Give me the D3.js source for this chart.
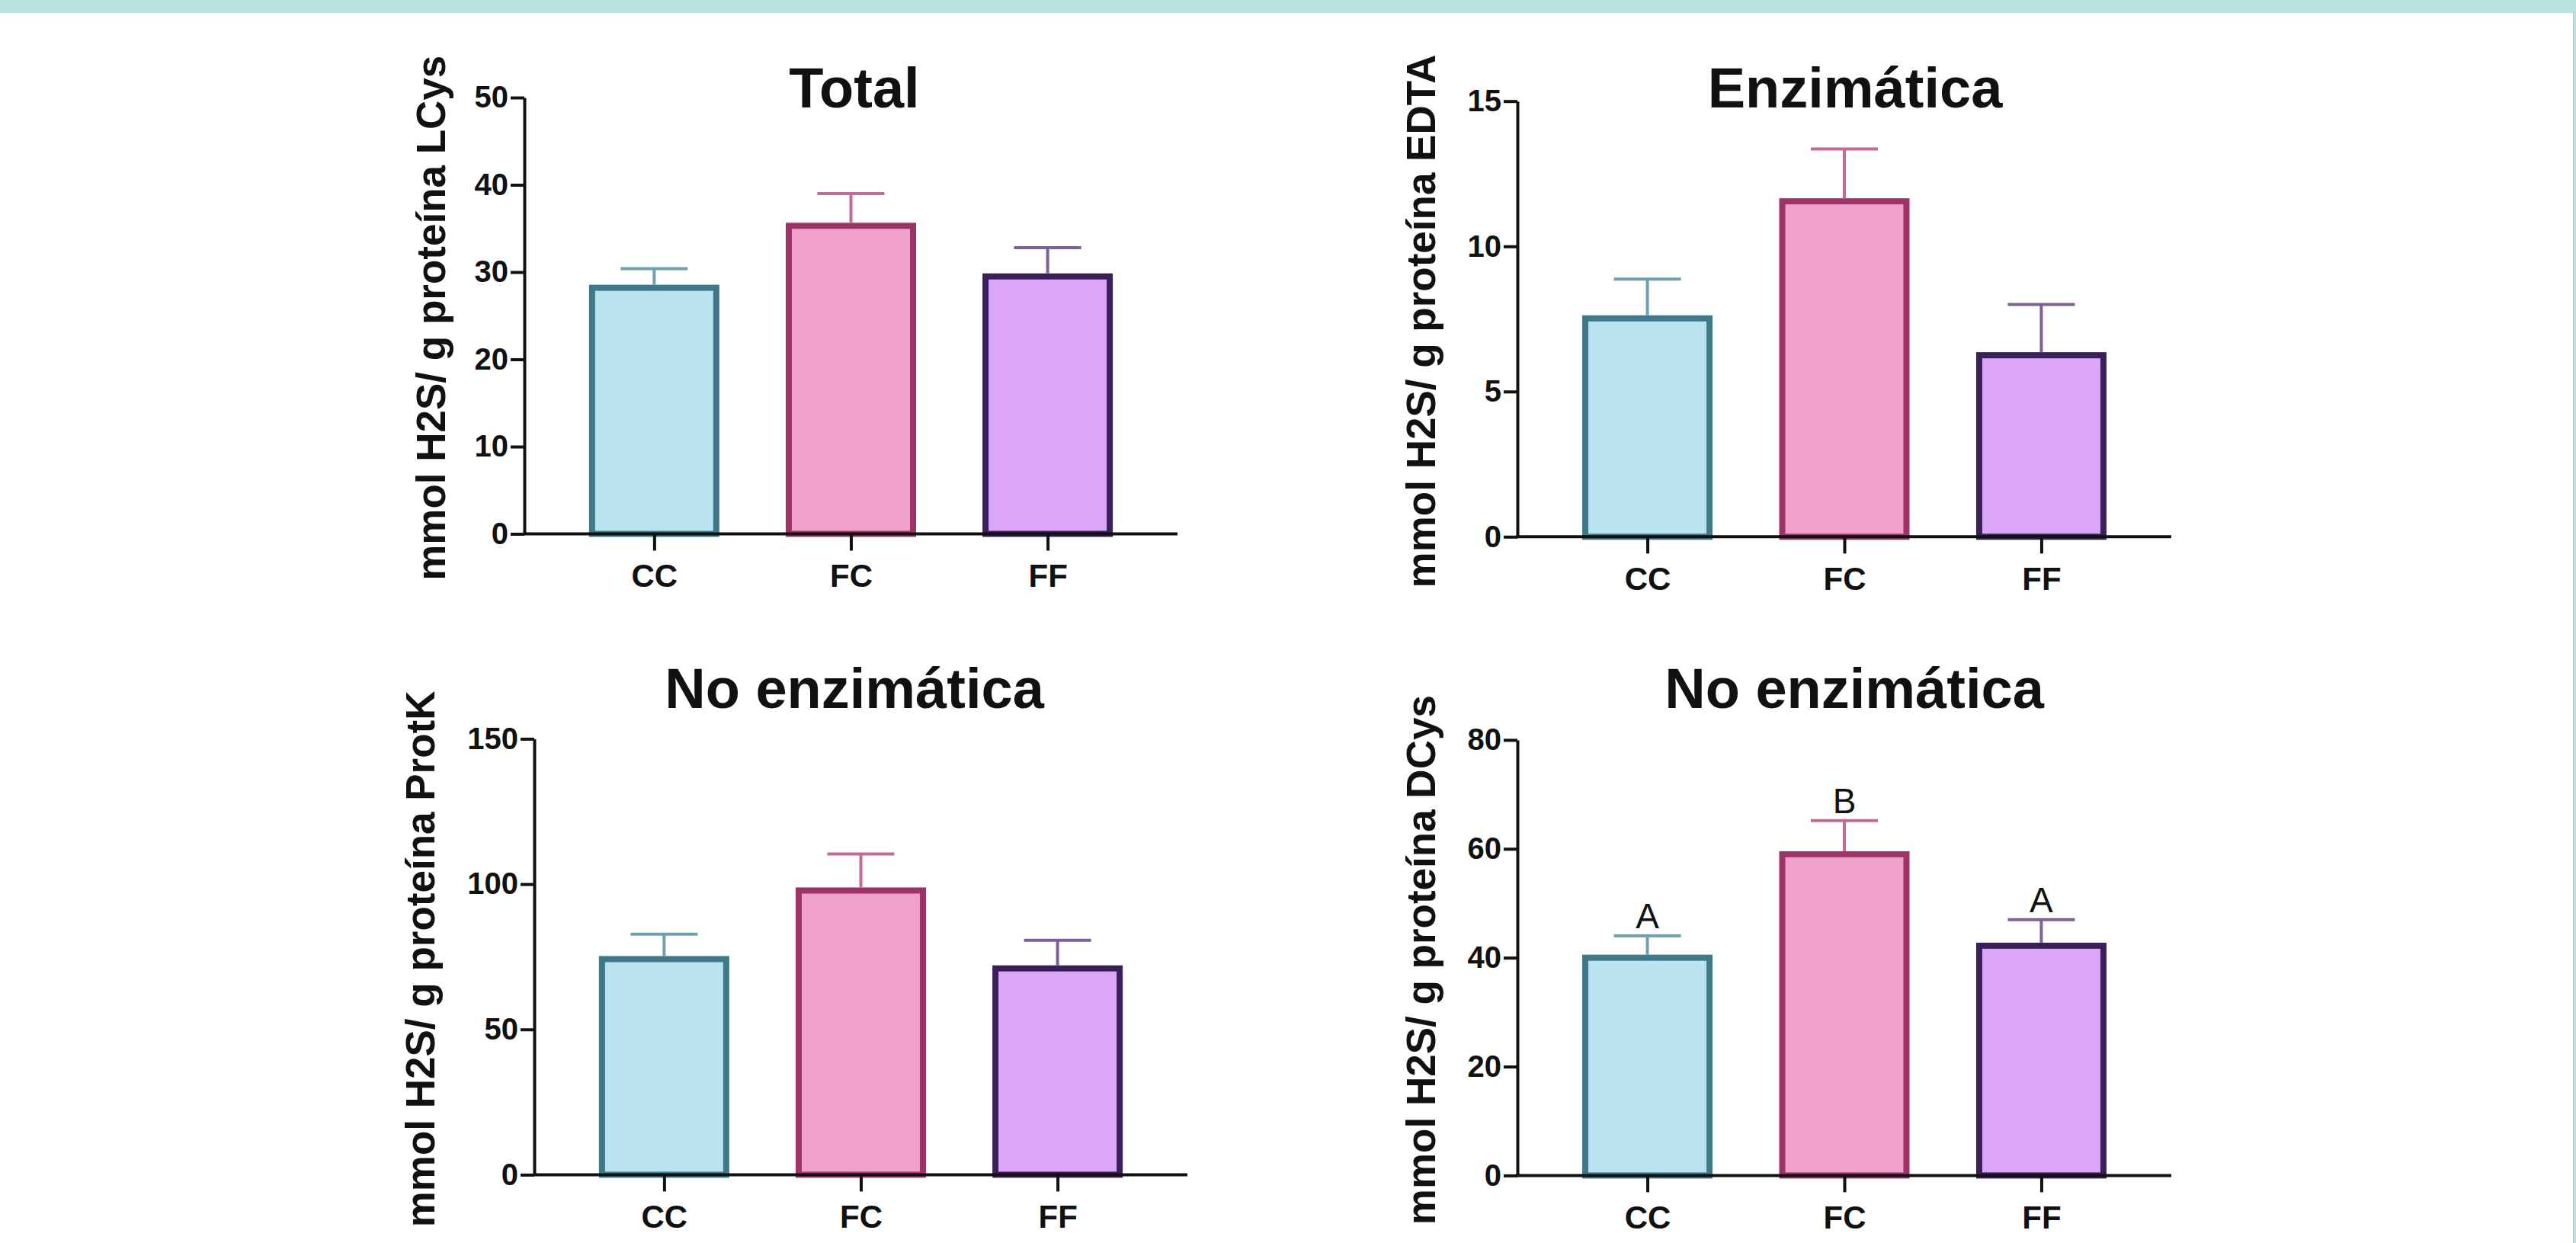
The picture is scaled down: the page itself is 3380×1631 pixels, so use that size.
<!DOCTYPE html>
<html>
<head>
<meta charset="utf-8">
<script src="https://cdn.jsdelivr.net/npm/d3@7"></script>
<style>
  body { margin: 0; background: #fff; }
  #chart { width: 3380px; height: 1631px; }
</style>
</head>
<body>
<div id="chart"></div>
<script>
// Data
const categories = ["CC", "FC", "FF"];

const totalMean = [28.2, 35.3, 29.5];
const totalErr  = [2.2, 3.7, 3.3];
const totalTicks = [0, 10, 20, 30, 40, 50];

const enzMean = [7.52, 11.55, 6.25];
const enzErr  = [1.35, 1.8, 1.75];
const enzTicks = [0, 5, 10, 15];

const protkMean = [74.2, 97.8, 71];
const protkErr  = [8.6, 12.6, 9.7];
const protkTicks = [0, 50, 100, 150];

const dcysMean = [40.0, 59.0, 42.2];
const dcysErr  = [4.0, 6.2, 4.8];
const dcysTicks = [0, 20, 40, 60, 80];
const dcysLetters = ["A", "B", "A"];

const fills   = ["#b9e3f1", "#efa0cd", "#dca6f8"];
const strokes = ["#3f7889", "#9c3467", "#3a1f5b"];
const errCols = ["#6ea0ae", "#c36a98", "#7c6298"];

const panels = [
  { title: "Total", ylab: "mmol H2S/ g proteína LCys", mean: totalMean, err: totalErr, ticks: totalTicks,
    x0: 688, x1: 1545, y0: 700.5, yTop: 128, titleX: 1121, titleY: 141, labX: 584 },
  { title: "Enzimática", ylab: "mmol H2S/ g proteína EDTA", mean: enzMean, err: enzErr, ticks: enzTicks,
    x0: 1991, x1: 2849, y0: 704.3, yTop: 132.7, titleX: 2434, titleY: 141, labX: 1883 },
  { title: "No enzimática", ylab: "mmol H2S/ g proteína ProtK", mean: protkMean, err: protkErr, ticks: protkTicks,
    x0: 701, x1: 1558, y0: 1541.4, yTop: 969.4, titleX: 1121, titleY: 929, labX: 570 },
  { title: "No enzimática", ylab: "mmol H2S/ g proteína DCys", mean: dcysMean, err: dcysErr, ticks: dcysTicks,
    letters: dcysLetters,
    x0: 1991, x1: 2849, y0: 1542.4, yTop: 970.9, titleX: 2433, titleY: 929, labX: 1883 }
];

const svg = d3.select("#chart")
  .append("svg")
  .attr("width", 3380)
  .attr("height", 1631)
  .style("font-family", "'Liberation Sans', Arial, Helvetica, sans-serif");

// page frame
svg.append("rect").attr("width", 3380).attr("height", 1631).attr("fill", "#ffffff");
svg.append("rect").attr("x", 0).attr("y", 0).attr("width", 3380).attr("height", 17).attr("fill", "#b9e3df");
svg.append("rect").attr("x", 3377).attr("y", 0).attr("width", 3).attr("height", 1631).attr("fill", "#b9e3df");
svg.append("line").attr("x1", 3376.5).attr("x2", 3376.5).attr("y1", 17).attr("y2", 1631)
  .attr("stroke", "#c4c4c4").attr("stroke-width", 1);

panels.forEach(p => {
  const g = svg.append("g");

  const y = d3.scaleLinear()
    .domain([0, d3.max(p.ticks)])
    .range([p.y0, p.yTop]);

  const x = d3.scalePoint()
    .domain(categories)
    .range([p.x0, p.x1])
    .padding(0.66);

  const barW = 163;
  const capW = 88;

  // bars
  g.selectAll("rect.bar")
    .data(categories)
    .enter()
    .append("rect")
    .attr("class", "bar")
    .attr("x", d => x(d) - barW / 2)
    .attr("y", (d, i) => y(p.mean[i]))
    .attr("width", barW)
    .attr("height", (d, i) => p.y0 - y(p.mean[i]))
    .attr("fill", (d, i) => fills[i])
    .attr("stroke", (d, i) => strokes[i])
    .attr("stroke-width", 8);

  // error bars (upper only)
  g.selectAll("line.err")
    .data(categories)
    .enter()
    .append("line")
    .attr("class", "err")
    .attr("x1", d => x(d))
    .attr("x2", d => x(d))
    .attr("y1", (d, i) => y(p.mean[i]) - 4)
    .attr("y2", (d, i) => y(p.mean[i] + p.err[i]))
    .attr("stroke", (d, i) => errCols[i])
    .attr("stroke-width", 4);

  g.selectAll("line.cap")
    .data(categories)
    .enter()
    .append("line")
    .attr("class", "cap")
    .attr("x1", d => x(d) - capW / 2)
    .attr("x2", d => x(d) + capW / 2)
    .attr("y1", (d, i) => y(p.mean[i] + p.err[i]))
    .attr("y2", (d, i) => y(p.mean[i] + p.err[i]))
    .attr("stroke", (d, i) => errCols[i])
    .attr("stroke-width", 4);

  if (p.letters) {
    g.selectAll("text.sig")
      .data(p.letters)
      .enter()
      .append("text")
      .attr("class", "sig")
      .attr("x", (d, i) => x(categories[i]))
      .attr("y", (d, i) => y(p.mean[i] + p.err[i]) - 10)
      .attr("text-anchor", "middle")
      .attr("font-size", "46px")
      .attr("fill", "#111")
      .text(d => d);
  }

  // axes
  const yAxis = g.append("g")
    .attr("transform", `translate(${p.x0},0)`)
    .call(d3.axisLeft(y).tickValues(p.ticks).tickSize(18).tickSizeOuter(0).tickPadding(3));

  const xAxis = g.append("g")
    .attr("transform", `translate(0,${p.y0})`)
    .call(d3.axisBottom(x).tickSize(22).tickSizeOuter(0).tickPadding(18));

  [yAxis, xAxis].forEach(a => {
    a.select(".domain").attr("stroke", "#111").attr("stroke-width", 4);
    a.selectAll(".tick line").attr("stroke", "#111").attr("stroke-width", 4);
    a.selectAll(".tick text")
      .attr("fill", "#111")
      .attr("font-weight", "bold")
      .attr("font-family", "'Liberation Sans', Arial, Helvetica, sans-serif");
  });
  yAxis.selectAll(".tick text").attr("font-size", "40px");
  xAxis.selectAll(".tick text").attr("font-size", "42px");

  // x axis line reaches over the y axis
  xAxis.select(".domain").attr("d", `M${p.x0 - 2},0H${p.x1}`);

  // title
  g.append("text")
    .attr("x", p.titleX)
    .attr("y", p.titleY)
    .attr("text-anchor", "middle")
    .attr("font-size", "74px")
    .attr("font-weight", "bold")
    .attr("fill", "#111")
    .text(p.title);

  // y label
  g.append("text")
    .attr("transform", `translate(${p.labX},${(p.y0 + p.yTop) / 2 + 3}) rotate(-90)`)
    .attr("text-anchor", "middle")
    .attr("font-size", "53px")
    .attr("font-weight", "bold")
    .attr("fill", "#111")
    .text(p.ylab);
});
</script>
</body>
</html>
